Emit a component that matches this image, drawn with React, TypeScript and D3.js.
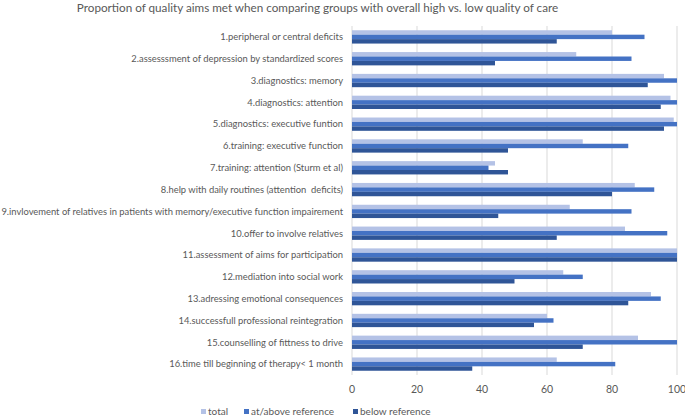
import React from "react";
import * as d3 from "d3";

const categories = [
  "1.peripheral or central deficits",
  "2.assesssment of depression by standardized scores",
  "3.diagnostics: memory",
  "4.diagnostics: attention",
  "5.diagnostics: executive funtion",
  "6.training: executive function",
  "7.training: attention (Sturm et al)",
  "8.help with daily routines (attention  deficits)",
  "9.invlovement of relatives in patients with memory/executive function impairement",
  "10.offer to involve relatives",
  "11.assessment of aims for participation",
  "12.mediation into social work",
  "13.adressing emotional consequences",
  "14.successfull professional reintegration",
  "15.counselling of fittness to drive",
  "16.time till beginning of therapy< 1 month",
];

const total = [80, 69, 96, 98, 99, 71, 44, 87, 67, 84, 100, 65, 92, 60, 88, 63];
const atAbove = [90, 86, 100, 100, 100, 85, 42, 93, 86, 97, 100, 71, 95, 62, 100, 81];
const below = [63, 44, 91, 95, 96, 48, 48, 80, 45, 63, 100, 50, 85, 56, 71, 37];

const seriesNames = ["total", "at/above reference", "below reference"];
const seriesColors = ["#b4c2e6", "#4472c4", "#2f5597"];
const xTicks = [0, 20, 40, 60, 80, 100];

const W = 685;
const H = 417;
const left = 352;
const right = 677;
const top = 26;
const bottom = 375;
const font = "Lato, 'Open Sans', sans-serif";
const textColor = "#595959";

export default function App() {
  const x = d3.scaleLinear().domain([0, 100]).range([left, right]);
  const y = d3.scaleBand<string>().domain(categories).range([top, bottom]).paddingInner(0.39).paddingOuter(0.195);
  const series = [total, atAbove, below];
  const bw = y.bandwidth() / 3;
  const legendX = [201, 244, 353];

  return (
    <svg width={W} height={H} style={{ position: "absolute", left: 0, top: 0, background: "#fff" }}>
      <text x={317.5} y={12} textAnchor="middle" fontFamily={font} fontSize={11.7} fill={textColor}>
        Proportion of quality aims met when comparing groups with overall high vs. low quality of care
      </text>
      {xTicks.map((t) => (
        <line key={t} x1={x(t)} x2={x(t)} y1={top} y2={bottom} stroke="#d9d9d9" strokeWidth={1} />
      ))}
      {categories.map((c, i) => (
        <g key={c}>
          {series.map((s, j) => (
            <rect
              key={j}
              x={x(0)}
              y={(y(c) as number) + j * bw}
              width={x(s[i]) - x(0)}
              height={bw}
              fill={seriesColors[j]}
            />
          ))}
          <text
            x={343}
            y={(y(c) as number) + y.bandwidth() / 2}
            dy="0.35em"
            textAnchor="end"
            fontFamily={font}
            fontSize={9.4}
            fill={textColor}
            style={{ whiteSpace: "pre" }}
          >
            {c}
          </text>
        </g>
      ))}
      {xTicks.map((t) => (
        <text key={t} x={x(t)} y={393} textAnchor="middle" fontFamily={font} fontSize={10.5} fill={textColor}>
          {t}
        </text>
      ))}
      {seriesNames.map((n, j) => (
        <g key={n}>
          <rect x={legendX[j]} y={409} width={5} height={5} fill={seriesColors[j]} />
          <text x={legendX[j] + 7} y={415} fontFamily={font} fontSize={10} fill={textColor}>
            {n}
          </text>
        </g>
      ))}
    </svg>
  );
}
